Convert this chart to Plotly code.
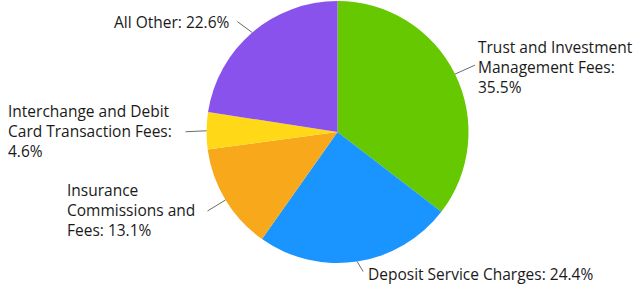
import math
import plotly.graph_objects as go

labels = ["Trust and Investment Management Fees", "Deposit Service Charges",
          "Insurance Commissions and Fees", "Interchange and Debit Card Transaction Fees",
          "All Other"]
values = [35.5, 24.4, 13.1, 4.6, 22.6]
label_texts = ["Trust and Investment<br>Management Fees:<br>35.5%",
               "Deposit Service Charges: 24.4%",
               "Insurance<br>Commissions and<br>Fees: 13.1%",
               "Interchange and Debit<br>Card Transaction Fees:<br>4.6%",
               "All Other: 22.6%"]
colors = ["#66c800", "#1a94ff", "#f7a81b", "#ffd817", "#8a52ec"]

W, H = 634, 286
CX, CY, R = 337.5, 132, 131

# label placement (pixels): anchor x, centre y, xanchor, leader end offset
label_pos = [
    (476, 67, "left", (20, -9)),
    (366, 274, "left", (6, 10)),
    (65, 210, "left", (-18, 11)),
    (6, 131, "left", (-21, 1)),
    (232, 22, "right", (-15, -11)),
]

def px(x):
    return x / W

def py(y):
    return 1 - y / H

fig = go.Figure(go.Pie(
    labels=labels, values=values, sort=False, direction="clockwise", rotation=0,
    marker=dict(colors=colors, line=dict(width=0)),
    textinfo="none", hoverinfo="label+percent", showlegend=False,
    domain=dict(x=[px(CX - R), px(CX + R)], y=[py(CY + R), py(CY - R)]),
))

total = sum(values)
cum = 0
shapes = []
annotations = []
for v, txt, (lx, ly, xa, (dx, dy)) in zip(values, label_texts, label_pos):
    mid = (cum + v / 2) / total * 2 * math.pi
    cum += v
    ex = CX + R * math.sin(mid)
    ey = CY - R * math.cos(mid)
    shapes.append(dict(type="line", xref="paper", yref="paper",
                       x0=px(ex), y0=py(ey), x1=px(ex + dx), y1=py(ey + dy),
                       line=dict(color="#6b6b6b", width=1)))
    annotations.append(dict(text=txt, xref="paper", yref="paper",
                            x=px(lx), y=py(ly), xanchor=xa, yanchor="middle",
                            align=xa, showarrow=False,
                            font=dict(family="Open Sans", size=15.5, color="#1a1a1a")))

fig.update_layout(width=W, height=H, margin=dict(l=0, r=0, t=0, b=0),
                  paper_bgcolor="white", plot_bgcolor="white",
                  shapes=shapes, annotations=annotations)
fig.write_html("out.html", config={"displayModeBar": False},
               post_script="document.body.style.margin='0';")
